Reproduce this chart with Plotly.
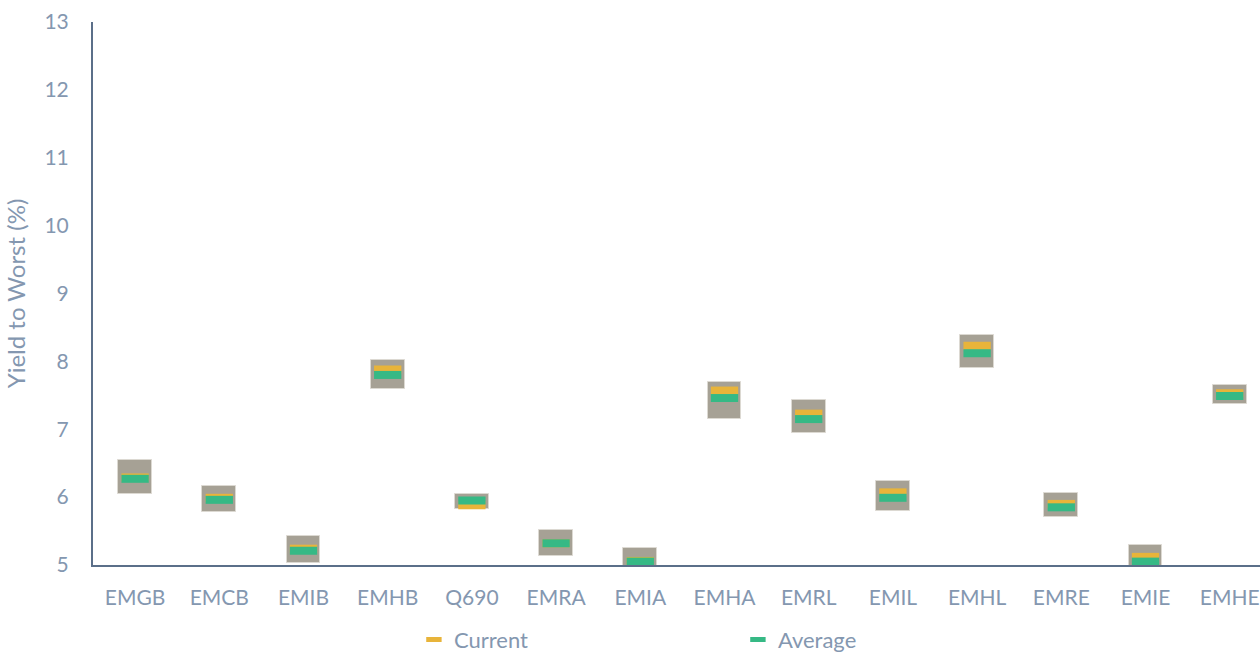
import plotly.graph_objects as go

# Index tickers
categories = ["EMGB", "EMCB", "EMIB", "EMHB", "Q690", "EMRA", "EMIA",
              "EMHA", "EMRL", "EMIL", "EMHL", "EMRE", "EMIE", "EMHE"]

# Yield to worst range (%) for each index
range_low = [6.05, 5.78, 5.03, 7.60, 5.83, 5.14, 4.97,
             7.15, 6.95, 5.79, 7.90, 5.70, 4.97, 7.37]
range_high = [6.54, 6.16, 5.43, 8.02, 6.05, 5.52, 5.25,
              7.70, 7.43, 6.24, 8.39, 6.06, 5.29, 7.65]

# Current and average yield to worst (%)
current = [6.29, 5.99, 5.24, 7.88, 5.88, 5.32, 5.06,
           7.57, 7.23, 6.07, 8.23, 5.90, 5.12, 7.53]
average = [6.27, 5.96, 5.21, 7.80, 5.95, 5.32, 5.05,
           7.46, 7.15, 5.99, 8.12, 5.85, 5.05, 7.49]

TEXT = "#8497B0"
AXIS = "#5B6F89"
BOX = "#A6A195"
YELLOW = "#E8B43A"
GREEN = "#36B985"
FONT = "Lato"

idx = list(range(len(categories)))
spans = [h - l for h, l in zip(range_high, range_low)]

fig = go.Figure()

# High-low range boxes
fig.add_trace(go.Bar(
    x=idx, y=spans, base=range_low, width=0.40,
    marker=dict(color=BOX, line=dict(color="#DCD9D2", width=1)),
    showlegend=False, hoverinfo="skip",
))

# Current and average markers as short horizontal dashes
series = [("Current", current, YELLOW), ("Average", average, GREEN)]
for name, vals, color in series:
    fig.add_trace(go.Scatter(
        x=idx, y=vals, mode="markers", name=name, legendgroup=name,
        showlegend=False,
        marker=dict(symbol="line-ew", size=19.5,
                    line=dict(color=color, width=8)),
    ))

# Legend keys: smaller dash than the plotted markers
for name, vals, color in series:
    fig.add_trace(go.Scatter(
        x=[None], y=[None], mode="markers", name=name, legendgroup=name,
        marker=dict(symbol="line-ew", size=11,
                    line=dict(color=color, width=5)),
    ))

fig.update_layout(
    width=1260, height=654,
    margin=dict(l=93, r=0, t=22, b=89, autoexpand=False),
    paper_bgcolor="white", plot_bgcolor="white",
    font=dict(family=FONT, color=TEXT, size=21),
    bargap=0,
    legend=dict(
        orientation="h", x=0.275, xanchor="left",
        y=-0.099, yanchor="top",
        entrywidth=279, entrywidthmode="pixels",
        font=dict(size=22, color=TEXT, family=FONT),
        itemsizing="trace",
        bgcolor="rgba(0,0,0,0)",
    ),
)

fig.update_xaxes(
    range=[-0.5, -0.5 + 1167 / 84.2],
    tickmode="array", tickvals=idx, ticktext=categories,
    showgrid=False, zeroline=False,
    showline=True, linecolor=AXIS, linewidth=2,
    ticks="", tickfont=dict(size=21, color=TEXT),
    ticklabelstandoff=13,
)
fig.update_yaxes(
    range=[5, 13], dtick=1,
    showgrid=False, zeroline=False,
    showline=True, linecolor=AXIS, linewidth=2,
    ticks="", tickfont=dict(size=21, color=TEXT),
    ticklabelstandoff=18,
    title=dict(text="Yield to Worst (%)", font=dict(size=24, color=TEXT),
               standoff=12),
)

fig.write_html("out.html")
